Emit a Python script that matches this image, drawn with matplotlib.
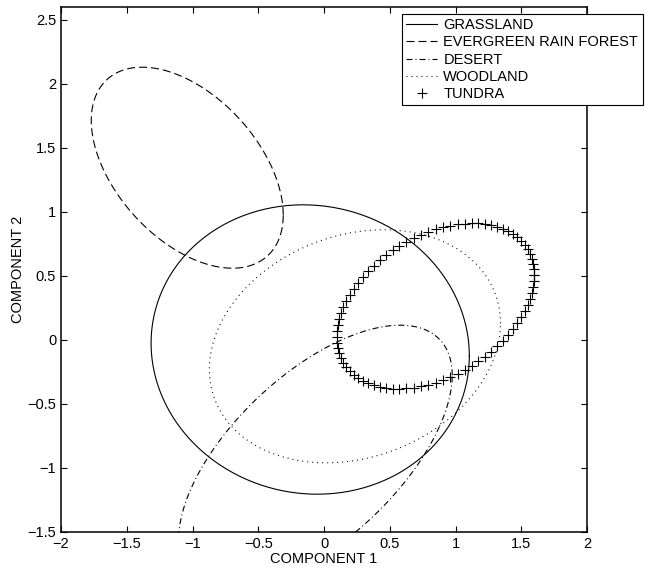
import numpy as np
import matplotlib
matplotlib.use("Agg")
import matplotlib.pyplot as plt

plt.rcParams['font.family'] = ['Liberation Sans', 'DejaVu Sans']
plt.rcParams['font.size'] = 10

# Ellipse summaries (data units)
groups = ['GRASSLAND', 'EVERGREEN RAIN FOREST', 'DESERT', 'WOODLAND', 'TUNDRA']
center_x = [-0.105, -1.04, -0.065, 0.235, 0.848]
center_y = [-0.075, 1.345, -0.915, -0.05, 0.265]
spread_x = [1.21, 0.73, 1.04, 1.107, 0.752]
spread_y = [1.13, 0.785, 1.03, 0.91, 0.646]
corr = [-0.044, -0.47, 0.62, 0.197, 0.377]

x_ticks = [-2, -1.5, -1, -0.5, 0, 0.5, 1, 1.5, 2]
y_ticks = [-1.5, -1, -0.5, 0, 0.5, 1, 1.5, 2, 2.5]

lw = 0.8
styles = [
    dict(linestyle='-'),
    dict(linestyle=(0, (7.2, 3.6))),
    dict(linestyle=(0, (5.4, 2.7, 0.9, 2.7))),
    dict(linestyle=(0, (0.9, 3.6))),
    dict(linestyle='none', marker='+', markersize=6.5, markeredgewidth=0.8),
]


def ellipse(i, n):
    t = np.linspace(0, 2 * np.pi, n)
    r = corr[i]
    x = center_x[i] + spread_x[i] * np.cos(t)
    y = center_y[i] + spread_y[i] * (r * np.cos(t) + np.sqrt(1 - r * r) * np.sin(t))
    return x, y


fig = plt.figure(figsize=(6.45, 5.73), dpi=100)
ax = fig.add_axes([0.0946, 0.0716, 0.8155, 0.9162])

for i, name in enumerate(groups):
    n = 85 if name == 'TUNDRA' else 400
    x, y = ellipse(i, n)
    ax.plot(x, y, color='black', linewidth=lw, label=name, **styles[i])

ax.set_xlim(-2, 2)
ax.set_ylim(-1.5, 2.6)
ax.set_xticks(x_ticks)
ax.set_yticks(y_ticks)
ax.set_xticklabels([('%g' % v).replace('-', '\u2212') for v in x_ticks])
ax.set_yticklabels([('%g' % v).replace('-', '\u2212') for v in y_ticks])
ax.tick_params(direction='in', length=4, width=0.8, top=True, right=True,
               labelsize=10.5, colors='black')
for s in ax.spines.values():
    s.set_linewidth(1.1)

ax.set_xlabel('COMPONENT 1', fontsize=10.5, labelpad=1)
ax.set_ylabel('COMPONENT 2', fontsize=10.5, labelpad=2)

leg = ax.legend(loc='upper left', bbox_to_anchor=(0.648, 0.987), borderaxespad=0,
                fancybox=False, edgecolor='black', framealpha=1, fontsize=10.5,
                handlelength=2.1, handletextpad=0.45, labelspacing=0.22,
                borderpad=0.3)
leg.get_frame().set_linewidth(0.8)
leg.set_clip_on(False)

fig.savefig('out.png', dpi=100)
